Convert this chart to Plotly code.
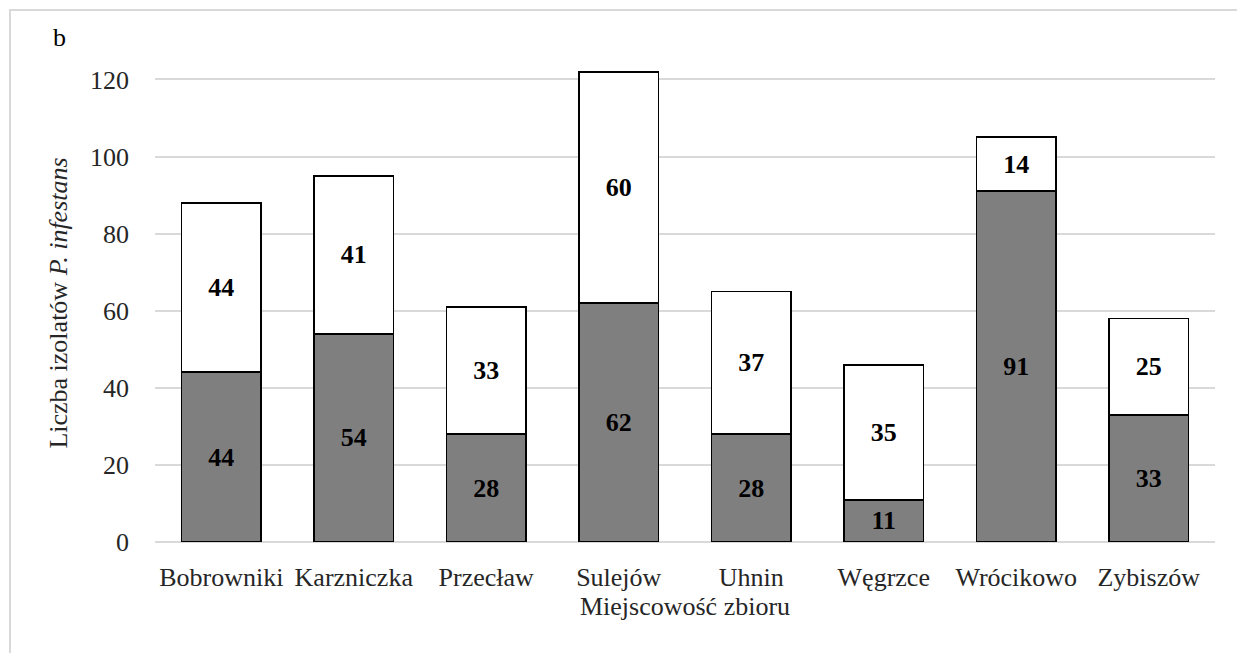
import plotly.graph_objects as go

# Collection sites and isolate counts per group
sites = ["Bobrowniki", "Karzniczka", "Przecław", "Sulejów", "Uhnin", "Węgrzce", "Wrócikowo", "Zybiszów"]
lower_counts = [44, 54, 28, 62, 28, 11, 91, 33]
upper_counts = [44, 41, 33, 60, 37, 35, 14, 25]
y_ticks = [0, 20, 40, 60, 80, 100, 120]

FONT = "Liberation Serif, Times New Roman, serif"
FS = 26

fig = go.Figure()
fig.add_trace(go.Bar(
    x=sites, y=lower_counts,
    marker=dict(color="#7f7f7f", line=dict(color="#000000", width=1.8)),
    text=[str(v) for v in lower_counts], textposition="inside",
    insidetextanchor="middle", textangle=0,
    textfont=dict(family=FONT, size=FS, color="#000000", weight="bold"),
    showlegend=False,
))
fig.add_trace(go.Bar(
    x=sites, y=upper_counts,
    marker=dict(color="#ffffff", line=dict(color="#000000", width=1.8)),
    text=[str(v) for v in upper_counts], textposition="inside",
    insidetextanchor="middle", textangle=0,
    textfont=dict(family=FONT, size=FS, color="#000000", weight="bold"),
    showlegend=False,
))

fig.update_layout(
    barmode="stack",
    bargap=0.4,
    width=1237, height=653,
    margin=dict(l=155, r=22, t=64, b=111),
    paper_bgcolor="#ffffff",
    plot_bgcolor="#ffffff",
    font=dict(family=FONT, size=FS, color="#262626"),
    uniformtext=dict(minsize=10, mode="show"),
    xaxis=dict(
        title=dict(text="Miejscowość zbioru", font=dict(size=FS), standoff=4),
        showgrid=False, showline=False, ticks="",
        tickfont=dict(size=FS),
        ticklabelstandoff=17,
    ),
    yaxis=dict(
        title=dict(text="Liczba izolatów <i>P. infestans</i>", font=dict(size=FS), standoff=14),
        range=[0, 124],
        tickvals=y_ticks,
        showgrid=True, gridcolor="#d9d9d9", gridwidth=1.5,
        zeroline=True, zerolinecolor="#d9d9d9", zerolinewidth=1.5,
        showline=False, ticks="",
        tickfont=dict(size=FS),
        ticklabelstandoff=25,
    ),
    shapes=[dict(
        type="rect", xref="paper", yref="paper",
        x0=-145 / 1060, x1=1.2, y0=-0.4, y1=1 + 54 / 478,
        line=dict(color="#d9d9d9", width=2), fillcolor="rgba(0,0,0,0)",
        layer="below",
    )],
    annotations=[dict(
        text="b", xref="paper", yref="paper",
        x=-104 / 1060, y=1 + 26 / 478, xanchor="left", yanchor="middle",
        showarrow=False, font=dict(family=FONT, size=FS, color="#000000"),
    )],
)

fig.write_html("out.html")
